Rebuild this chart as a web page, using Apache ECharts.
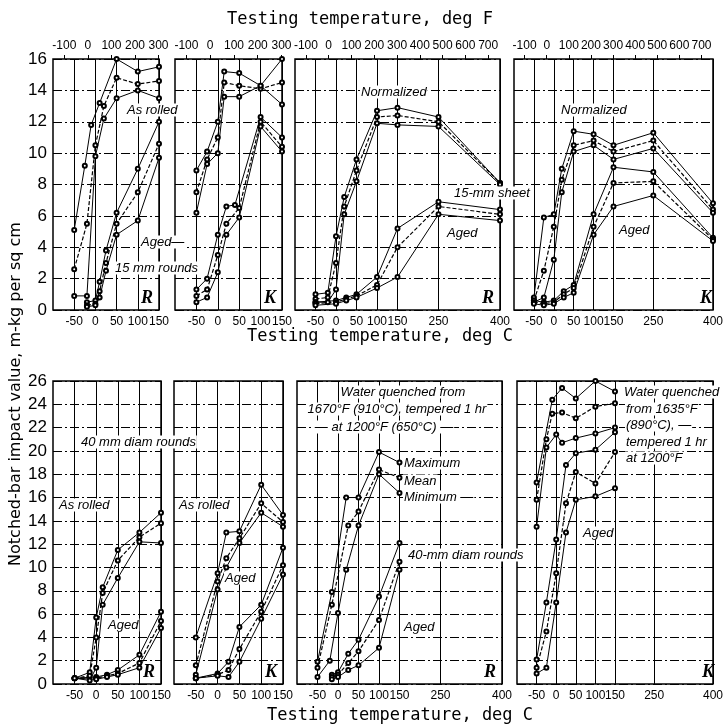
<!DOCTYPE html>
<html>
<head>
<meta charset="utf-8">
<script src="https://cdn.jsdelivr.net/npm/echarts@6/dist/echarts.min.js"></script>
<style>
html, body { margin: 0; padding: 0; background: #fff; }
#chart { width: 726px; height: 726px; }
</style>
</head>
<body>
<div id="chart"></div>
<script>
// 刻度
var ticksC = [-50, 0, 50, 100, 150];
var ticksCWide = [-50, 0, 50, 100, 150, 250, 400];
var ticksF = [-100, 0, 100, 200, 300];
var ticksFWide = [-100, 0, 100, 200, 300, 400, 500, 600, 700];

// 15 mm rounds, R  ([deg C, m-kg/cm2])
var aRolledMax  = [[-50,5.1],[-25,9.2],[-10,11.8],[10,13.2],[50,16.0],[100,15.2],[150,15.5]];
var aRolledMean = [[-50,2.6],[-20,5.5],[0,10.5],[20,13.0],[50,14.8],[100,14.4],[150,14.6]];
var aRolledMin  = [[-50,0.9],[-20,0.9],[0,9.8],[20,12.2],[50,13.5],[100,14.0],[150,13.5]];
var aAgedMax    = [[-20,0.5],[0,0.6],[10,1.8],[25,3.8],[50,6.2],[100,9.0],[150,12.0]];
var aAgedMean   = [[-20,0.3],[0,0.4],[10,1.2],[25,3.0],[50,5.5],[100,7.5],[150,10.6]];
var aAgedMin    = [[-20,0.2],[0,0.3],[10,0.8],[25,2.5],[50,4.8],[100,5.7],[150,9.7]];

// 15 mm rounds, K
var bRolledMax  = [[-50,8.9],[-25,10.1],[0,12.0],[15,15.2],[50,15.1],[100,14.3],[150,16.0]];
var bRolledMean = [[-50,7.5],[-25,9.6],[0,11.0],[15,14.5],[50,14.3],[100,14.1],[150,14.5]];
var bRolledMin  = [[-50,6.2],[-25,9.3],[0,10.0],[15,13.6],[50,13.6],[100,14.3],[150,13.1]];
var bAgedMax    = [[-50,1.3],[-25,2.0],[0,4.8],[20,6.6],[40,6.7],[100,12.3],[150,11.0]];
var bAgedMean   = [[-50,0.9],[-25,1.3],[0,3.5],[20,5.5],[50,6.5],[100,12.0],[150,10.4]];
var bAgedMin    = [[-50,0.5],[-25,0.8],[0,2.4],[20,4.8],[50,5.9],[100,11.7],[150,10.1]];

// 15-mm sheet, R
var cNormMax  = [[-50,1.0],[-20,1.1],[0,4.7],[20,7.2],[50,9.6],[100,12.7],[150,12.9],[250,12.3],[400,8.1]];
var cNormMean = [[-50,0.7],[-20,0.8],[0,3.0],[20,6.6],[50,8.9],[100,12.3],[150,12.4],[250,12.0],[400,8.1]];
var cNormMin  = [[-50,0.5],[-20,0.5],[0,1.3],[20,6.1],[50,8.2],[100,11.9],[150,11.8],[250,11.7],[400,8.0]];
var cAgedMax  = [[-50,0.5],[0,0.6],[25,0.8],[50,1.0],[100,2.1],[150,5.2],[250,6.9],[400,6.4]];
var cAgedMean = [[-50,0.4],[0,0.5],[25,0.7],[50,0.9],[100,1.6],[150,4.0],[250,6.6],[400,6.1]];
var cAgedMin  = [[-50,0.3],[0,0.4],[25,0.6],[50,0.8],[100,1.4],[150,2.1],[250,6.1],[400,5.7]];

// 15-mm sheet, K
var dNormMax  = [[-50,0.8],[-25,5.9],[0,6.1],[20,9.0],[50,11.4],[100,11.2],[150,10.5],[250,11.3],[400,6.8]];
var dNormMean = [[-50,0.6],[-25,2.5],[0,5.3],[20,8.3],[50,10.5],[100,10.8],[150,10.1],[250,10.8],[400,6.4]];
var dNormMin  = [[-50,0.5],[-25,0.8],[0,3.2],[20,7.5],[50,10.1],[100,10.5],[150,9.6],[250,10.3],[400,6.2]];
var dAgedMax  = [[-50,0.6],[-25,0.5],[0,0.6],[25,1.2],[50,1.6],[100,6.1],[150,9.1],[250,8.8],[400,4.6]];
var dAgedMean = [[-50,0.5],[-25,0.4],[0,0.5],[25,1.0],[50,1.4],[100,5.3],[150,8.1],[250,8.2],[400,4.5]];
var dAgedMin  = [[-50,0.4],[-25,0.3],[0,0.4],[25,0.8],[50,1.1],[100,4.8],[150,6.6],[250,7.3],[400,4.4]];

// 40 mm diam rounds, R
var eRolledMax  = [[-50,0.5],[-15,1.0],[0,5.7],[15,8.3],[50,11.5],[100,13.0],[150,14.7]];
var eRolledMean = [[-50,0.5],[-15,0.7],[0,4.0],[15,7.8],[50,10.6],[100,12.6],[150,13.8]];
var eRolledMin  = [[-50,0.5],[-15,0.3],[0,1.4],[15,6.8],[50,9.1],[100,12.2],[150,12.1]];
var eAgedMax    = [[-50,0.5],[0,0.6],[25,0.8],[50,1.2],[100,2.5],[150,6.2]];
var eAgedMean   = [[-50,0.5],[0,0.5],[25,0.7],[50,0.9],[100,1.8],[150,5.4]];
var eAgedMin    = [[-50,0.5],[0,0.4],[25,0.6],[50,0.8],[100,1.4],[150,4.8]];

// 40 mm diam rounds, K
var fRolledMax  = [[-50,4.0],[0,9.5],[20,13.0],[50,13.1],[100,17.1],[150,14.5]];
var fRolledMean = [[-50,1.6],[0,8.8],[20,10.8],[50,12.5],[100,15.5],[150,13.9]];
var fRolledMin  = [[-50,0.8],[0,8.1],[20,10.0],[50,12.1],[100,14.7],[150,13.5]];
var fAgedMax    = [[-50,0.5],[0,0.9],[25,1.9],[50,4.9],[100,6.8],[150,11.7]];
var fAgedMean   = [[-50,0.5],[0,0.8],[25,1.2],[50,3.0],[100,6.2],[150,10.2]];
var fAgedMin    = [[-50,0.5],[0,0.7],[25,0.6],[50,1.9],[100,5.6],[150,9.4]];

// water quenched, R
var gQuenchMax  = [[-50,1.9],[-15,7.9],[20,16.0],[50,16.0],[100,19.9],[150,19.0]];
var gQuenchMean = [[-50,1.4],[-15,6.8],[25,13.6],[50,14.8],[100,18.4],[150,17.7]];
var gQuenchMin  = [[-50,0.6],[-20,2.0],[0,6.1],[20,9.8],[50,13.6],[100,18.0],[150,16.4]];
var gAgedMax    = [[-15,0.8],[0,1.0],[25,2.6],[50,3.8],[100,7.5],[150,12.1]];
var gAgedMean   = [[-15,0.6],[0,0.8],[25,1.8],[50,2.8],[100,5.5],[150,10.5]];
var gAgedMin    = [[-15,0.4],[0,0.6],[25,1.2],[50,1.6],[100,3.1],[150,9.8]];

// water quenched, K
var hQuenchMax  = [[-50,17.3],[-10,24.4],[15,25.4],[50,24.5],[100,26.0],[150,25.1]];
var hQuenchMean = [[-50,15.8],[-25,21.0],[-10,23.2],[15,23.3],[50,22.8],[100,23.8],[150,24.1]];
var hQuenchMin  = [[-50,13.5],[-25,20.3],[0,21.4],[15,20.7],[50,21.1],[100,21.5],[150,22.0]];
var hAgedMax    = [[-50,2.1],[-25,7.0],[0,12.4],[25,18.8],[50,19.8],[100,20.1],[150,21.6]];
var hAgedMean   = [[-50,1.4],[-25,4.5],[0,9.5],[25,15.5],[50,18.2],[100,17.2],[150,19.9]];
var hAgedMin    = [[-50,0.9],[-25,1.4],[0,7.0],[25,13.0],[50,15.8],[100,16.1],[150,16.8]];

var numFont = "'Liberation Sans Narrow','Liberation Sans',sans-serif";

// 面板布局
var panels = [
	{ left: 53,  width: 106, top: 59,  height: 251, xmax: 150, ymax: 16, row: 0, letter: 'R',
	  lines: [aRolledMax, aRolledMean, aRolledMin, aAgedMax, aAgedMean, aAgedMin] },
	{ left: 175, width: 107, top: 59,  height: 251, xmax: 150, ymax: 16, row: 0, letter: 'K',
	  lines: [bRolledMax, bRolledMean, bRolledMin, bAgedMax, bAgedMean, bAgedMin] },
	{ left: 295, width: 205, top: 59,  height: 251, xmax: 400, ymax: 16, row: 0, letter: 'R',
	  lines: [cNormMax, cNormMean, cNormMin, cAgedMax, cAgedMean, cAgedMin] },
	{ left: 514, width: 204, top: 59,  height: 251, xmax: 400, ymax: 16, row: 0, letter: 'K',
	  lines: [dNormMax, dNormMean, dNormMin, dAgedMax, dAgedMean, dAgedMin] },
	{ left: 53,  width: 108, top: 381, height: 303, xmax: 150, ymax: 26, row: 1, letter: 'R',
	  lines: [eRolledMax, eRolledMean, eRolledMin, eAgedMax, eAgedMean, eAgedMin] },
	{ left: 174, width: 109, top: 381, height: 303, xmax: 150, ymax: 26, row: 1, letter: 'K',
	  lines: [fRolledMax, fRolledMean, fRolledMin, fAgedMax, fAgedMean, fAgedMin] },
	{ left: 297, width: 205, top: 381, height: 303, xmax: 400, ymax: 26, row: 1, letter: 'R',
	  lines: [gQuenchMax, gQuenchMean, gQuenchMin, gAgedMax, gAgedMean, gAgedMin] },
	{ left: 517, width: 203, top: 381, height: 303, xmax: 400, ymax: 26, row: 1, letter: 'K',
	  lines: [hQuenchMax, hQuenchMean, hQuenchMin, hAgedMax, hAgedMean, hAgedMin] }
];

var grids = [], xAxes = [], yAxes = [], series = [], graphics = [];

panels.forEach(function (p, i) {
	var wide = p.xmax > 150;
	grids.push({
		left: p.left, top: p.top, width: p.width, height: p.height,
		show: true, borderColor: '#000', borderWidth: 1.5, backgroundColor: '#fff'
	});
	var cIdx = xAxes.length;
	xAxes.push({
		gridIndex: i, type: 'value', position: 'bottom', min: -100, max: p.xmax,
		axisLine: { show: false },
		axisTick: { show: false, customValues: wide ? ticksCWide : ticksC },
		axisLabel: { customValues: wide ? ticksCWide : ticksC, hideOverlap: false, showMaxLabel: true, showMinLabel: true,
			color: '#000', fontSize: 12, margin: 6, fontFamily: numFont },
		splitLine: { show: true, lineStyle: { color: '#000', width: 1 } }
	});
	if (p.row === 0) {
		xAxes.push({
			gridIndex: i, type: 'value', position: 'top', min: -148, max: p.xmax * 9 / 5 + 32,
			axisLine: { show: false },
			axisTick: { show: true, length: 4, customValues: wide ? ticksFWide : ticksF, lineStyle: { color: '#000' } },
			axisLabel: { customValues: wide ? ticksFWide : ticksF, hideOverlap: false, showMaxLabel: true, showMinLabel: true,
				color: '#000', fontSize: 12, margin: 7, fontFamily: numFont },
			splitLine: { show: false }
		});
	}
	yAxes.push({
		gridIndex: i, type: 'value', min: 0, max: p.ymax, interval: 2,
		axisLine: { show: false }, axisTick: { show: false },
		axisLabel: { show: p.left < 60, color: '#000', fontSize: 17, margin: 6, fontFamily: numFont },
		splitLine: { show: true, lineStyle: { color: '#000', width: 1, type: [9, 3, 2, 3] } }
	});
	p.lines.forEach(function (d, k) {
		var isMean = k % 3 === 1;
		series.push({
			type: 'line', xAxisIndex: cIdx, yAxisIndex: i, data: d,
			symbol: 'emptyCircle', symbolSize: 4, animation: false, silent: true,
			lineStyle: { color: '#000', width: isMean ? 1.2 : 1, type: isMean ? [4, 2] : 'solid' },
			itemStyle: { color: '#000', borderWidth: 1 }
		});
	});
	graphics.push({
		type: 'text', x: p.left + p.width - 6, y: p.top + p.height - 12, z: 50,
		style: { text: p.letter, font: "bold italic 18px 'Liberation Serif', serif", fill: '#000', align: 'right', verticalAlign: 'middle' }
	});
});

function note(txt, x, y, align, size) {
	return {
		type: 'text', x: x, y: y, z: 60,
		style: {
			text: txt, font: 'italic ' + (size || 13) + "px 'Liberation Sans', sans-serif", fill: '#000',
			align: align || 'left', verticalAlign: 'middle', backgroundColor: '#fff', padding: [0, 1]
		}
	};
}

var axisFont = "17px 'DejaVu Sans Mono','Liberation Mono',monospace";
graphics.push(
	{ type: 'text', x: 360, y: 20, style: { text: 'Testing temperature, deg F', font: axisFont, fill: '#000', align: 'center', verticalAlign: 'middle' } },
	{ type: 'text', x: 380, y: 337, style: { text: 'Testing temperature, deg C', font: axisFont, fill: '#000', align: 'center', verticalAlign: 'middle' } },
	{ type: 'text', x: 400, y: 716, style: { text: 'Testing temperature, deg C', font: axisFont, fill: '#000', align: 'center', verticalAlign: 'middle' } },
	{ type: 'text', x: 16, y: 394, rotation: Math.PI / 2,
	  style: { text: 'Notched-bar impact value, m-kg per sq cm', font: "16px 'DejaVu Sans', sans-serif", fill: '#000', align: 'center', verticalAlign: 'middle' } },

	note('As rolled', 126, 110),
	note('Aged\u2014', 140, 242),
	note('15 mm rounds', 114, 268),
	note('Normalized', 360, 92),
	note('15-mm sheet', 453, 193),
	note('Aged', 446, 233),
	note('Normalized', 560, 110),
	note('Aged', 618, 230),

	note('40 mm diam rounds', 80, 442),
	note('As rolled', 58, 505),
	note('Aged', 107, 625),
	note('As rolled', 178, 505),
	note('Aged', 224, 578),
	note('Water quenched from', 403, 392, 'center'),
	note('1670\u00b0F (910\u00b0C), tempered 1 hr', 397, 409, 'center'),
	note('\u2014 at 1200\u00b0F (650\u00b0C) \u2014', 384, 427, 'center'),
	note('Maximum', 403, 463),
	note('Mean', 403, 481),
	note('Minimum \u2014', 403, 497),
	note('40-mm diam rounds', 407, 555),
	note('Aged', 403, 627),
	note('Water quenched', 623, 392),
	note('from 1635\u00b0F', 625, 409),
	note('(890\u00b0C), \u2014', 625, 425),
	note('tempered 1 hr', 625, 442),
	note('at 1200\u00b0F', 625, 458),
	note('Aged', 582, 533)
);

var myChart = echarts.init(document.getElementById('chart'));
myChart.setOption({
	backgroundColor: '#fff',
	animation: false,
	grid: grids,
	xAxis: xAxes,
	yAxis: yAxes,
	series: series,
	graphic: graphics
});
</script>
</body>
</html>
